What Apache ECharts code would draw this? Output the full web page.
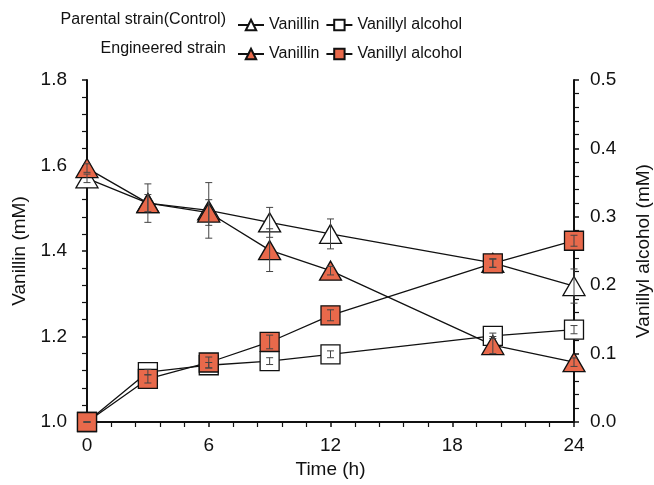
<!DOCTYPE html>
<html>
<head>
<meta charset="utf-8">
<script src="https://cdn.jsdelivr.net/npm/echarts@6/dist/echarts.min.js"></script>
<style>
  html, body { margin: 0; padding: 0; background: #fff; }
  #chart { width: 654px; height: 485px; }
</style>
</head>
<body>
<div id="chart"></div>
<script>
// time points (h)
var hours = [0, 3, 6, 9, 12, 20, 24];

// vanillin, mM (left axis)
var parentVanillin = [1.57, 1.512, 1.495, 1.467, 1.44, 1.372, 1.318];
var parentVanillinErr = [0.01, 0.045, 0.065, 0.035, 0.035, 0.01, 0.04];
var engVanillin = [1.594, 1.512, 1.49, 1.402, 1.354, 1.18, 1.14];
var engVanillinErr = [0.01, 0.02, 0.03, 0.05, 0.01, 0.02, 0.01];

// vanillyl alcohol, mM (right axis)
var parentAlcohol = [0, 0.073, 0.083, 0.089, 0.099, 0.126, 0.135];
var parentAlcoholErr = [0, 0.004, 0.004, 0.005, 0.005, 0.004, 0.006];
var engAlcohol = [0, 0.063, 0.087, 0.117, 0.156, 0.232, 0.265];
var engAlcoholErr = [0, 0.006, 0.008, 0.01, 0.008, 0.006, 0.008];

var FONT = 'Liberation Sans, Arial, sans-serif';
var ORANGE = '#E8694B';
var TRI = 'path://M0,10 L5.8,0 L11.6,10 Z';

function pairs(ys) {
  return hours.map(function (h, i) { return [h, ys[i]]; });
}
function errData(ys, es) {
  return hours.map(function (h, i) { return [h, ys[i] - es[i], ys[i] + es[i]]; });
}

// custom series drawing the error bars
function errorSeries(ys, es, axisIdx) {
  return {
    type: 'custom',
    yAxisIndex: axisIdx,
    z: 5,
    silent: true,
    data: errData(ys, es),
    renderItem: function (params, api) {
      var lo = api.coord([api.value(0), api.value(1)]);
      var hi = api.coord([api.value(0), api.value(2)]);
      var w = 3.5;
      var st = { stroke: '#444', lineWidth: 1 };
      return {
        type: 'group',
        children: [
          { type: 'line', shape: { x1: lo[0], y1: lo[1], x2: hi[0], y2: hi[1] }, style: st },
          { type: 'line', shape: { x1: lo[0] - w, y1: lo[1], x2: lo[0] + w, y2: lo[1] }, style: st },
          { type: 'line', shape: { x1: hi[0] - w, y1: hi[1], x2: hi[0] + w, y2: hi[1] }, style: st }
        ]
      };
    }
  };
}

function lineSeries(name, ys, axisIdx, symbol, size, fill) {
  return {
    name: name,
    type: 'line',
    yAxisIndex: axisIdx,
    data: pairs(ys),
    symbol: symbol,
    symbolSize: size,
    showAllSymbol: true,
    z: 3,
    lineStyle: { color: '#111', width: 1.3 },
    itemStyle: { color: fill, borderColor: '#111', borderWidth: 1.3 }
  };
}

var chart = echarts.init(document.getElementById('chart'), null, { renderer: 'canvas' });

var nameTxt = { color: '#111', fontFamily: FONT, fontSize: 19 };
var tickTxt = { color: '#111', fontFamily: FONT, fontSize: 19 };
var tickLine = { show: true, length: 5, lineStyle: { color: '#111', width: 1.5 } };
var minorLine = { show: true, splitNumber: 5, length: 5, lineStyle: { color: '#111', width: 1.2 } };

var option = {
  animation: false,
  grid: { left: 87, right: 80, top: 80, bottom: 63, outerBoundsMode: 'none' },
  graphic: [
    { type: 'text', right: 654 - 226, top: 12, style: { text: 'Parental strain(Control)', font: '16px ' + FONT, fill: '#111' } },
    { type: 'text', right: 654 - 226, top: 41, style: { text: 'Engineered strain', font: '16px ' + FONT, fill: '#111' } }
  ],
  legend: [
    {
      left: 232, top: 12, itemGap: 6, itemWidth: 26, itemHeight: 13,
      data: ['P-Vanillin', 'P-Vanillyl alcohol'],
      formatter: function (n) { return n.slice(2); },
      textStyle: { color: '#111', fontFamily: FONT, fontSize: 16 }
    },
    {
      left: 232, top: 41, itemGap: 6, itemWidth: 26, itemHeight: 13,
      data: ['E-Vanillin', 'E-Vanillyl alcohol'],
      formatter: function (n) { return n.slice(2); },
      textStyle: { color: '#111', fontFamily: FONT, fontSize: 16 }
    }
  ],
  xAxis: {
    type: 'value',
    min: 0, max: 24, interval: 6,
    name: 'Time (h)',
    nameLocation: 'middle',
    nameGap: 36,
    nameTextStyle: nameTxt,
    axisLine: { onZero: false, lineStyle: { color: '#111', width: 2 } },
    axisTick: tickLine,
    minorTick: minorLine,
    axisLabel: Object.assign({ margin: 14 }, tickTxt),
    splitLine: { show: false }
  },
  yAxis: [
    {
      type: 'value',
      min: 1.0, max: 1.8, interval: 0.2,
      name: 'Vanillin (mM)',
      nameLocation: 'middle',
      nameGap: 57,
      nameTextStyle: nameTxt,
      axisLine: { show: true, onZero: false, lineStyle: { color: '#111', width: 2 } },
      axisTick: tickLine,
      minorTick: minorLine,
      axisLabel: Object.assign({ margin: 20, formatter: function (v) { return v.toFixed(1); } }, tickTxt),
      splitLine: { show: false }
    },
    {
      type: 'value',
      position: 'right',
      min: 0, max: 0.5, interval: 0.1,
      name: 'Vanillyl alcohol (mM)',
      nameLocation: 'middle',
      nameGap: 60,
      nameRotate: 90,
      nameTextStyle: nameTxt,
      axisLine: { show: true, onZero: false, lineStyle: { color: '#111', width: 2 } },
      axisTick: tickLine,
      minorTick: minorLine,
      axisLabel: Object.assign({ margin: 16, formatter: function (v) { return v.toFixed(1); } }, tickTxt),
      splitLine: { show: false }
    }
  ],
  series: [
    lineSeries('P-Vanillin', parentVanillin, 0, TRI, [22, 19], '#fff'),
    lineSeries('P-Vanillyl alcohol', parentAlcohol, 1, 'rect', 19, '#fff'),
    lineSeries('E-Vanillin', engVanillin, 0, TRI, [22, 19], ORANGE),
    lineSeries('E-Vanillyl alcohol', engAlcohol, 1, 'rect', 19, ORANGE),
    errorSeries(parentVanillin, parentVanillinErr, 0),
    errorSeries(engVanillin, engVanillinErr, 0),
    errorSeries(parentAlcohol, parentAlcoholErr, 1),
    errorSeries(engAlcohol, engAlcoholErr, 1)
  ]
};

chart.setOption(option);
</script>
</body>
</html>
